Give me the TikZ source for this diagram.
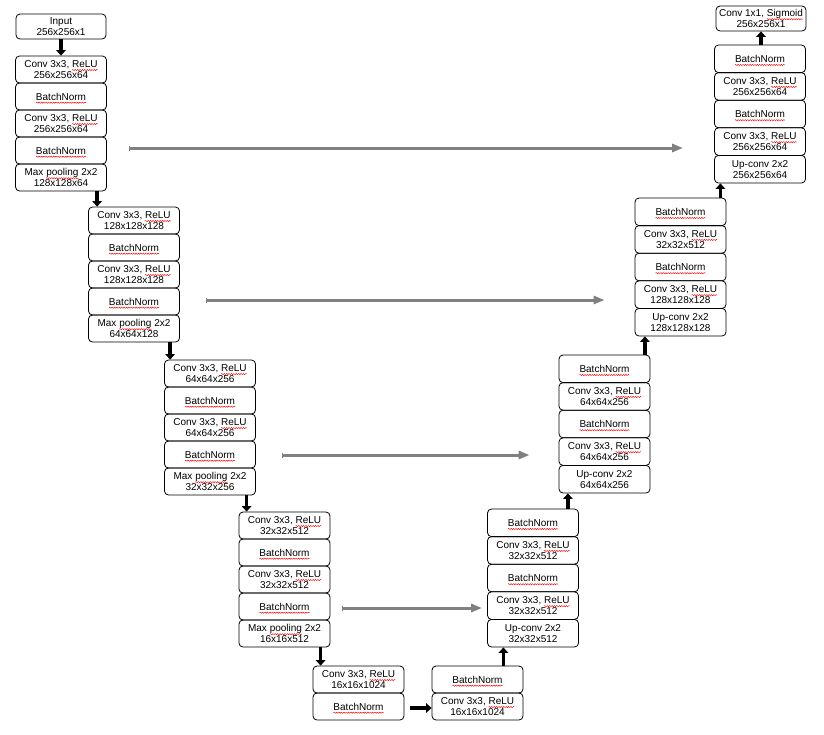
\documentclass[tikz,border=0pt]{standalone}
\usepackage{fontspec}
\setmainfont{Liberation Sans}
\usetikzlibrary{arrows.meta,decorations.pathmorphing}
\newcommand\rw[1]{\tikz[baseline=(w.base)]{\node[inner sep=0pt,outer sep=0pt,draw=none,sharp corners,minimum width=0pt,minimum height=0pt,align=left] (w) {#1};
  \draw[overlay,red,line width=0.45pt,sharp corners,decorate,decoration={snake,amplitude=0.6pt,segment length=2.4pt}] ([yshift=-2.6pt]w.base west) -- ([yshift=-2.6pt]w.base east);}}
\begin{document}
\begin{tikzpicture}[x=1pt,y=-1pt,
  blk/.style={draw, rounded corners=4pt, minimum width=91pt, inner sep=0pt, align=center,
    font=\fontsize{10}{11}\selectfont, line width=0.8pt},
  enc/.style={blk, minimum height=27pt},
  dec/.style={blk, minimum height=27.6pt},
  fat/.style={line width=3.6pt, -{Triangle[width=9.5pt,length=5.5pt]}},
  skip/.style={draw={rgb,255:red,128;green,128;blue,128}, line width=3pt,
    {Bar[width=5pt,line width=1pt]}-{Triangle[width=8pt,length=11pt]}}]
\useasboundingbox (0,0) rectangle (824,734);
% ---- encoder
\node[blk, minimum height=25pt, minimum width=90pt] (in) at (61,26.5) {Input\\256x256x1};
\node[enc] (c1a) at (61,69.5) {Conv 3x3, \rw{ReLU}\\256x256x64};
\node[enc] (b1a) at (61,96.5) {\rw{BatchNorm}};
\node[enc] (c1b) at (61,123.5) {Conv 3x3, \rw{ReLU}\\256x256x64};
\node[enc] (b1b) at (61,150.5) {\rw{BatchNorm}};
\node[enc] (p1) at (61,177.5) {Max \rw{pooling} 2x2\\128x128x64};
\node[enc] (c2a) at (134,220.5) {Conv 3x3, \rw{ReLU}\\128x128x128};
\node[enc] (b2a) at (134,247.5) {\rw{BatchNorm}};
\node[enc] (c2b) at (134,274.5) {Conv 3x3, \rw{ReLU}\\128x128x128};
\node[enc] (b2b) at (134,301.5) {\rw{BatchNorm}};
\node[enc] (p2) at (134,328.5) {Max \rw{pooling} 2x2\\64x64x128};
\node[enc] (c3a) at (210,373.5) {Conv 3x3, \rw{ReLU}\\64x64x256};
\node[enc] (b3a) at (210,400.5) {\rw{BatchNorm}};
\node[enc] (c3b) at (210,427.5) {Conv 3x3, \rw{ReLU}\\64x64x256};
\node[enc] (b3b) at (210,454.5) {\rw{BatchNorm}};
\node[enc] (p3) at (210,481.5) {Max \rw{pooling} 2x2\\32x32x256};
\node[enc] (c4a) at (284.5,525.5) {Conv 3x3, \rw{ReLU}\\32x32x512};
\node[enc] (b4a) at (284.5,552.5) {\rw{BatchNorm}};
\node[enc] (c4b) at (284.5,579.5) {Conv 3x3, \rw{ReLU}\\32x32x512};
\node[enc] (b4b) at (284.5,606.5) {\rw{BatchNorm}};
\node[enc] (p4) at (284.5,633.5) {Max \rw{pooling} 2x2\\16x16x512};
\node[enc] (c5) at (358.5,679.5) {Conv 3x3, \rw{ReLU}\\16x16x1024};
\node[enc] (b5) at (358.5,706.5) {\rw{BatchNorm}};
% ---- decoder
\node[enc] (b6) at (477.5,679.5) {\rw{BatchNorm}};
\node[enc] (c6) at (477.5,706.5) {Conv 3x3, \rw{ReLU}\\16x16x1024};
\node[dec] (b7a) at (533,522.8) {\rw{BatchNorm}};
\node[dec] (c7a) at (533,550.4) {Conv 3x3, \rw{ReLU}\\32x32x512};
\node[dec] (b7b) at (533,578) {\rw{BatchNorm}};
\node[dec] (c7b) at (533,605.6) {Conv 3x3, \rw{ReLU}\\32x32x512};
\node[dec] (u7) at (533,633.2) {Up-conv 2x2\\32x32x512};
\node[dec] (b8a) at (604.5,368.8) {\rw{BatchNorm}};
\node[dec] (c8a) at (604.5,396.4) {Conv 3x3, \rw{ReLU}\\64x64x256};
\node[dec] (b8b) at (604.5,424) {\rw{BatchNorm}};
\node[dec] (c8b) at (604.5,451.6) {Conv 3x3, \rw{ReLU}\\64x64x256};
\node[dec] (u8) at (604.5,479.2) {Up-conv 2x2\\64x64x256};
\node[dec] (b9a) at (680.5,211.8) {\rw{BatchNorm}};
\node[dec] (c9a) at (680.5,239.4) {Conv 3x3, \rw{ReLU}\\32x32x512};
\node[dec] (b9b) at (680.5,267) {\rw{BatchNorm}};
\node[dec] (c9b) at (680.5,294.6) {Conv 3x3, \rw{ReLU}\\128x128x128};
\node[dec] (u9) at (680.5,322.2) {Up-conv 2x2\\128x128x128};
\node[dec] (b10a) at (760,58.8) {\rw{BatchNorm}};
\node[dec] (c10a) at (760,86.4) {Conv 3x3, \rw{ReLU}\\256x256x64};
\node[dec] (b10b) at (760,114) {\rw{BatchNorm}};
\node[dec] (c10b) at (760,141.6) {Conv 3x3, \rw{ReLU}\\256x256x64};
\node[dec] (u10) at (760,169.2) {Up-conv 2x2\\256x256x64};
\node[blk, minimum height=25pt, minimum width=90pt] (out) at (761,18.5) {Conv 1x1, \rw{Sigmoid}\\256x256x1};
% ---- black arrows
\draw[fat] (in.south) -- (c1a.north);
\coordinate (a2) at ([xshift=9pt]c2a.north west);
\draw[fat] (a2 |- p1.south) -- (a2);
\coordinate (a3) at ([xshift=6pt]c3a.north west);
\draw[fat] (a3 |- p2.south) -- (a3);
\coordinate (a4) at ([xshift=8pt]c4a.north west);
\draw[fat] (a4 |- p3.south) -- (a4);
\coordinate (a5) at ([xshift=8pt]c5.north west);
\draw[fat] (a5 |- p4.south) -- (a5);
\coordinate (h5) at ([yshift=-1.5pt]b5.east);
\draw[fat, shorten <=6pt] (h5) -- (h5 -| c6.west);
\coordinate (a7) at ([xshift=-20pt]b6.north east);
\draw[fat] (a7) -- (a7 |- u7.south);
\coordinate (a8) at ([xshift=-11pt]b7a.north east);
\draw[fat] (a8) -- (a8 |- u8.south);
\coordinate (a9) at ([xshift=-5.5pt]b8a.north east);
\draw[fat] (a9) -- (a9 |- u9.south);
\coordinate (a10) at ([xshift=-6pt]b9a.north east);
\draw[fat] (a10) -- (a10 |- u10.south);
\draw[fat] (b10a.north -| out.south) -- (out.south);
% ---- skip connections
\coordinate (s1) at ([xshift=22pt,yshift=2.5pt]b1b.east);
\coordinate (t1) at ([xshift=-31pt]c10b.west);
\draw[skip] (s1) -- (s1 -| t1);
\coordinate (s2) at ([xshift=26pt,yshift=1.5pt]b2b.east);
\coordinate (t2) at ([xshift=-30pt]c9b.west);
\draw[skip] (s2) -- (s2 -| t2);
\coordinate (s3) at ([xshift=26pt,yshift=-0.5pt]b3b.east);
\coordinate (t3) at ([xshift=-29pt]c8b.west);
\draw[skip] (s3) -- (s3 -| t3);
\coordinate (s4) at ([xshift=12pt,yshift=-1.5pt]b4b.east);
\coordinate (t4) at ([xshift=-5pt]c7b.west);
\draw[skip] (s4) -- (s4 -| t4);
\end{tikzpicture}
\end{document}
